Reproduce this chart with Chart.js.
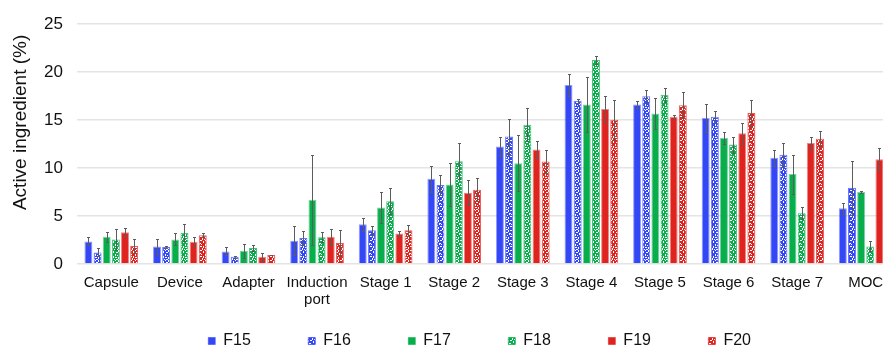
<!DOCTYPE html>
<html>
<head>
<meta charset="utf-8">
<script src="https://cdn.jsdelivr.net/npm/chart.js@4/dist/chart.umd.min.js"></script>
<style>
  html, body { margin: 0; padding: 0; background: #fff; overflow: hidden; }
  #wrap { width: 883px; height: 347px; overflow: hidden; position: relative; }
  canvas { display: block; }
</style>
</head>
<body>
<div id="wrap"><canvas id="chart" width="905" height="359"></canvas></div>
<script>
// Deposition of active ingredient per impactor region (mean ± SD, % of dose)
const categories = ['Capsule', 'Device', 'Adapter', ['Induction', 'port'], 'Stage 1', 'Stage 2',
  'Stage 3', 'Stage 4', 'Stage 5', 'Stage 6', 'Stage 7', 'MOC'];

const seriesNames = ['F15', 'F16', 'F17', 'F18', 'F19', 'F20'];

const f15 = [2.35, 1.83, 1.31, 2.42, 4.15, 8.89, 12.24, 18.67, 16.63, 15.22, 11.07, 5.81];
const f16 = [1.21, 1.76, 0.76, 2.70, 3.53, 8.23, 13.28, 17.01, 17.50, 15.35, 11.38, 7.96];
const f17 = [2.83, 2.56, 1.38, 6.67, 5.88, 8.30, 10.51, 16.63, 15.70, 13.14, 9.37, 7.50];
const f18 = [2.56, 3.25, 1.66, 2.80, 6.54, 10.72, 14.52, 21.27, 17.64, 12.45, 5.29, 1.83];
const f19 = [3.32, 2.31, 0.76, 2.83, 3.18, 7.44, 11.93, 16.15, 15.35, 13.62, 12.62, 10.92];
const f20 = [1.87, 3.01, 0.93, 2.18, 3.53, 7.75, 10.68, 15.04, 16.56, 15.74, 13.07, null];

const f15Sd = [0.42, 0.76, 0.42, 1.52, 0.69, 1.35, 0.97, 1.14, 0.38, 1.45, 0.83, 0.59];
const f16Sd = [0.42, 0.07, 0.10, 0.69, 0.45, 1.07, 1.87, 0.21, 0.62, 0.55, 1.24, 2.80];
const f17Sd = [0.55, 0.62, 0.73, 4.70, 1.59, 2.22, 2.90, 2.87, 1.62, 0.63, 2.04, 0.14];
const f18Sd = [1.10, 0.90, 0.28, 0.52, 1.35, 1.90, 1.70, 0.41, 0.75, 0.83, 0.65, 0.52];
const f19Sd = [0.40, 0.46, 0.41, 0.83, 0.28, 1.34, 0.86, 1.35, 0.14, 1.08, 0.66, 1.22];
const f20Sd = [0.72, 0.17, 0.04, 1.35, 0.58, 1.17, 1.18, 2.10, 1.35, 1.38, 0.76, null];

const yTicks = [0, 5, 10, 15, 20, 25];

const BLUE = '#3447f7', GREEN = '#07ae4b', RED = '#df231f';

// Confetti fill: base colour with small irregular white flecks
function speckled(color) {
  const tile = document.createElement('canvas');
  tile.width = 10; tile.height = 10;
  const g = tile.getContext('2d');
  g.fillStyle = color;
  g.fillRect(0, 0, 10, 10);
  g.fillStyle = '#ffffff';
  const flecks = [[0,0],[1,0],[5,0],[8,0],[8,1],[3,1],[3,2],[6,2],[7,2],[0,3],[9,3],[9,4],
                  [1,4],[5,4],[5,5],[7,5],[0,6],[1,6],[3,6],[3,7],[8,7],[8,8],[5,7],[6,7],
                  [2,8],[2,9],[4,9],[6,9],[7,9]];
  flecks.forEach(([x, y]) => g.fillRect(x, y, 1, 1));
  return g.createPattern(tile, 'repeat');
}

function withAlpha(hex, a) {
  const n = parseInt(hex.slice(1), 16);
  return `rgba(${n >> 16},${(n >> 8) & 255},${n & 255},${a})`;
}

const values = [f15, f16, f17, f18, f19, f20];
const errors = [f15Sd, f16Sd, f17Sd, f18Sd, f19Sd, f20Sd];
const colors = [BLUE, BLUE, GREEN, GREEN, RED, RED];
const dotted = [false, true, false, true, false, true];

const datasets = seriesNames.map((name, i) => ({
  label: name,
  data: values[i],
  errors: errors[i],
  backgroundColor: dotted[i] ? speckled(colors[i]) : colors[i],
  borderColor: withAlpha(colors[i], dotted[i] ? 0.75 : 0.55),
  borderWidth: 1,
  borderSkipped: 'start',
  categoryPercentage: 0.80,
  barPercentage: 0.87
}));

// Symmetric error bars drawn from each bar's value through the y scale
const errorBars = {
  id: 'errorBars',
  afterDatasetsDraw(chart) {
    const ctx = chart.ctx;
    const ys = chart.scales.y;
    ctx.save();
    ctx.strokeStyle = '#5c5c5c';
    ctx.lineWidth = 1;
    chart.data.datasets.forEach((ds, i) => {
      const meta = chart.getDatasetMeta(i);
      meta.data.forEach((bar, j) => {
        const v = ds.data[j], e = ds.errors[j];
        if (v == null || e == null) return;
        const x = Math.round(bar.x) + 0.5;
        const top = Math.round(ys.getPixelForValue(v + e)) + 0.5;
        const bot = Math.round(ys.getPixelForValue(Math.max(v - e, 0))) + 0.5;
        ctx.beginPath();
        ctx.moveTo(x, top); ctx.lineTo(x, bot);
        ctx.moveTo(x - 1.5, top); ctx.lineTo(x + 1.5, top);
        ctx.moveTo(x - 1.5, bot); ctx.lineTo(x + 1.5, bot);
        ctx.stroke();
      });
    });
    ctx.restore();
  }
};

const FONT = "'Liberation Sans', Arial, Helvetica, sans-serif";
const legendGap = [10, 10, 10, 10, 10, 4];

new Chart(document.getElementById('chart'), {
  type: 'bar',
  data: { labels: categories, datasets },
  plugins: [errorBars],
  options: {
    responsive: false,
    animation: false,
    devicePixelRatio: 1,
    layout: { padding: { top: 24, right: 5, left: 0, bottom: 0 } },
    plugins: {
      tooltip: { enabled: false },
      legend: {
        position: 'bottom',
        fullSize: false,
        labels: {
          boxWidth: 7,
          boxHeight: 7,
          padding: 13,
          color: '#111',
          font: { family: FONT, size: 16 },
          generateLabels(chart) {
            const items = Chart.defaults.plugins.legend.labels.generateLabels(chart);
            items.forEach((it, i) => { it.text = it.text + ' '.repeat(legendGap[i]); });
            return items;
          }
        }
      }
    },
    scales: {
      x: {
        grid: { display: false },
        border: { display: false },
        ticks: {
          color: '#111',
          font: { family: FONT, size: 15, lineHeight: 1.1 },
          padding: 3,
          maxRotation: 0,
          autoSkip: false
        },
        afterFit(scale) { scale.height = 56; }
      },
      y: {
        min: 0,
        max: 25,
        afterBuildTicks(scale) { scale.ticks = yTicks.map(v => ({ value: v })); },
        grid: { color: '#e4e4e4', lineWidth: 1.5, drawTicks: false },
        border: { display: false },
        ticks: {
          color: '#111',
          font: { family: FONT, size: 17 },
          padding: 14
        },
        title: {
          display: true,
          text: 'Active ingredient (%)  ',
          align: 'end',
          color: '#111',
          font: { family: FONT, size: 19 },
          padding: { top: 9, bottom: 0 }
        },
        afterFit(scale) { scale.width = 77; }
      }
    }
  }
});
</script>
</body>
</html>
